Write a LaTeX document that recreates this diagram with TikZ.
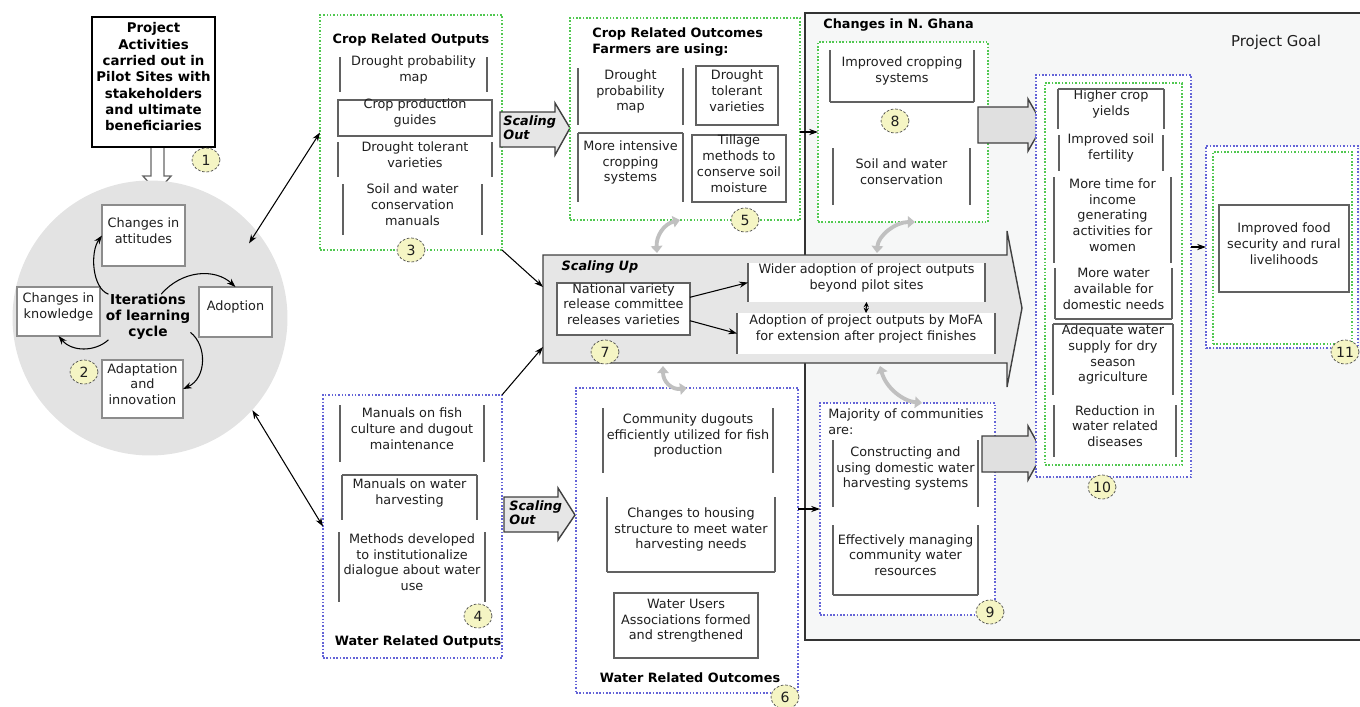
\documentclass[tikz,border=0pt]{standalone}
\usepackage{fontspec}
\setmainfont{DejaVu Sans}
\usetikzlibrary{arrows.meta,fit,calc,shapes.geometric}
\definecolor{numfill}{RGB}{245,245,196}
\definecolor{dotgreen}{RGB}{80,200,80}
\definecolor{dotblue}{RGB}{100,100,215}
\definecolor{panelfill}{RGB}{246,247,247}
\definecolor{circfill}{RGB}{227,227,227}
\definecolor{arrfill}{RGB}{230,230,230}
\definecolor{bigfill}{RGB}{224,224,224}
\definecolor{curvegray}{RGB}{192,192,192}
\begin{document}
\begin{tikzpicture}[x=0.02cm, y=-0.02cm,
  every node/.style={font=\fontsize{7.3}{9}\selectfont, text=black!88},
  boxline/.style={draw=black!62, line width=0.8pt},
  txt/.style={inner sep=0pt, outer sep=0pt, align=center, fill=white},
  lside/.style={append after command={(\tikzlastnode.north west) edge[boxline] (\tikzlastnode.south west)}},
  rside/.style={append after command={(\tikzlastnode.north east) edge[boxline] (\tikzlastnode.south east)}},
  tside/.style={append after command={(\tikzlastnode.north west) edge[boxline] (\tikzlastnode.north east)}},
  bside/.style={append after command={(\tikzlastnode.south west) edge[boxline] (\tikzlastnode.south east)}},
  sides/.style={txt, lside, rside},
  nobot/.style={txt, lside, rside, tside},
  notop/.style={txt, lside, rside, bside},
  fullbox/.style={txt, boxline},
  actbox/.style={txt, draw=black, line width=1.1pt, font=\fontsize{7.6}{9.3}\selectfont\bfseries, text=black},
  ttl/.style={inner sep=0pt, align=center, font=\fontsize{7.3}{9}\selectfont\bfseries, text=black},
  scl/.style={inner sep=0pt, align=left, font=\fontsize{7.3}{8.2}\selectfont\bfseries\itshape, text=black},
  greenbox/.style={draw=dotgreen, densely dotted, line width=0.9pt, fill=white, inner sep=0pt, outer sep=0pt},
  bluebox/.style={draw=dotblue, densely dotted, line width=0.9pt, fill=white, inner sep=0pt, outer sep=0pt},
  numc/.style={ellipse, draw=black!70, dash pattern=on 1.5pt off 1pt, fill=numfill, minimum width=0.56cm, minimum height=0.48cm, inner sep=0pt, font=\fontsize{8}{9}\selectfont},
  paneledge/.style={draw=black!80, line width=1pt},
  blockarr/.style={fill=arrfill, draw=black!75, line width=0.8pt, line join=miter},
  bigarr/.style={fill=bigfill, draw=black!75, line width=0.8pt, line join=miter},
  hollowarr/.style={fill=white, draw=black!60, line width=0.8pt, line join=miter},
  thinarr/.style={-{Stealth[length=5pt,width=3.5pt]}, line width=0.6pt, draw=black},
  dblarr/.style={{Stealth[length=5pt,width=3.5pt]}-{Stealth[length=5pt,width=3.5pt]}, line width=0.6pt, draw=black},
  grayarr/.style={{Triangle[length=4pt,width=6.5pt]}-{Triangle[length=4pt,width=6.5pt]}, line width=2.2pt, draw=curvegray}]
\def\num{node [numc] }
\def\ttl{node [ttl] }
\useasboundingbox (0,0) rectangle (1360,707);

\fill[panelfill] (805,13) rectangle (1360,640);
\draw[paneledge] (1360,13) -- (805,13) -- (805,640) -- (1360,640);
\draw (823,25) node [ttl, anchor=west] (ghana) {Changes in N. Ghana};
\draw (1276,42) node [font=\fontsize{8.5}{10}\selectfont] (goalttl) {Project Goal};

\node [actbox, fit={(92,17) (215,147)}] (act) {Project\\Activities\\carried out in\\Pilot Sites with\\stakeholders\\and ultimate\\beneficiaries};
\draw (206,160) \num (n1) {1};
\draw[hollowarr] (151,148) -- (151,176) -- (143,176) -- (157,192) -- (171,176) -- (164,176) -- (164,148);

\node [circle, fill=circfill, minimum size=5.5cm, inner sep=0pt] (cyc) at (150,318) {};
\node [fullbox, draw=black!45, fit={(102,205) (185,266)}] (att) {Changes in\\attitudes};
\node [fullbox, draw=black!45, fit={(17,287) (100,336)}] (know) {Changes in\\knowledge};
\node [fullbox, draw=black!45, fit={(199,287) (272,337)}] (adop) {Adoption};
\node [fullbox, draw=black!45, fit={(102,360) (183,418)}] (adap) {Adaptation\\and\\innovation};
\draw (148,317) node [ttl, font=\fontsize{7.8}{9}\selectfont\bfseries] (lrn) {Iterations\\of learning\\cycle};
\draw (84,372) \num (n2) {2};
\draw[thinarr] (lrn.150) .. controls (92,288) and (90,252) .. (att.west);
\draw[thinarr] (lrn.60) .. controls (182,270) and (215,268) .. (adop.north);
\draw[thinarr] (lrn.-20) .. controls (207,345) and (207,378) .. (adap.east);
\draw[thinarr] (lrn.-150) .. controls (95,352) and (72,352) .. (know.south);

\node [greenbox, fit={(320,15) (502,250)}] (out3) {};
\draw (411,40) \ttl (t3) {Crop Related Outputs};
\node [sides, fit={(340,57) (487,92)}] (c3a) {Drought probability\\map};
\node [fullbox, fit={(338,100) (492,136)}] (c3b) {Crop production\\guides};
\node [sides, fit={(338,142) (492,177)}] (c3c) {Drought tolerant\\varieties};
\node [sides, fit={(343,184) (482,235)}] (c3d) {Soil and water\\conservation\\manuals};
\draw (411,250) \num (n3) {3};

\node [bluebox, fit={(323,395) (502,658)}] (out4) {};
\node [sides, fit={(340,405) (484,462)}] (c4a) {Manuals on fish\\culture and dugout\\maintenance};
\node [nobot, fit={(342,475) (477,520)}] (c4b) {Manuals on water\\harvesting};
\node [sides, fit={(339,532) (485,602)}] (c4c) {Methods developed\\to institutionalize\\dialogue about water\\use};
\draw (478,616) \num (n4) {4};
\draw (418,642) \ttl (t4) {Water Related Outputs};

\draw[dblarr] ($(cyc)!0.9!(cyc.37)$) -- (out3.west);
\draw[dblarr] (cyc.-42) -- (out4.west);

\draw[blockarr] (500,112) -- (555,112) -- (555,103) -- (570,128) -- (555,155) -- (555,147) -- (500,147) -- cycle;
\draw (503,128) node [scl, anchor=west] (so1) {Scaling\\Out};
\draw[blockarr] (504,497) -- (558,497) -- (558,488) -- (575,515) -- (558,540) -- (558,532) -- (504,532) -- cycle;
\draw (509,513) node [scl, anchor=west] (so2) {Scaling\\Out};

\node [greenbox, fit={(570,18) (800,220)}] (out5) {};
\draw (592,42) node [ttl, anchor=west, align=left] (t5) {Crop Related Outcomes\\Farmers are using:};
\node [sides, fit={(578,68) (683,125)}] (c5a) {Drought\\probability\\map};
\node [fullbox, fit={(696,66) (778,125)}] (c5b) {Drought\\tolerant\\varieties};
\node [nobot, fit={(578,133) (683,202)}] (c5c) {More intensive\\cropping\\systems};
\node [fullbox, fit={(692,135) (786,202)}] (c5d) {Tillage\\methods to\\conserve soil\\moisture};
\draw (745,220) \num (n5) {5};

\node [bluebox, fit={(576,388) (798,693)}] (wout6) {};
\node [sides, fit={(603,408) (773,473)}] (c6a) {Community dugouts\\efficiently utilized for fish\\production};
\node [notop, fit={(607,497) (775,572)}] (c6b) {Changes to housing\\structure to meet water\\harvesting needs};
\node [fullbox, fit={(614,593) (758,658)}] (c6c) {Water Users\\Associations formed\\and strengthened};
\draw (690,678) \ttl (t6) {Water Related Outcomes};
\draw (785,697) \num (n6) {6};

\node [greenbox, fit={(818,42) (988,222)}] (gh8) {};
\node [notop, fit={(830,50) (974,102)}] (c8a) {Improved cropping\\systems};
\draw (895,121) \num (n8) {8};
\node [sides, fit={(833,148) (970,205)}] (c8b) {Soil and water\\conservation};

\node [bluebox, fit={(820,403) (995,615)}] (comm9) {};
\draw (828,422) node [anchor=west, align=left, inner sep=0pt] (t9) {Majority of communities\\are:};
\node [sides, fit={(833,440) (978,507)}] (c9a) {Constructing and\\using domestic water\\harvesting systems};
\node [notop, fit={(833,525) (978,595)}] (c9b) {Effectively managing\\community water\\resources};
\draw (990,612) \num (n9) {9};

\draw[bigarr] (978,107) -- (1028,107) -- (1028,99) -- (1043,125) -- (1028,151) -- (1028,143) -- (978,143) -- cycle;
\draw[bigarr] (982,436) -- (1028,436) -- (1028,426) -- (1043,453) -- (1028,480) -- (1028,472) -- (982,472) -- cycle;

\draw[blockarr] (543,255) -- (1007,255) -- (1007,231) -- (1022,308) -- (1007,387) -- (1007,363) -- (543,363) -- cycle;
\coordinate (upw1) at (543,287);
\coordinate (upw2) at (543,347);
\coordinate (upn1) at (657,253);
\coordinate (upn2) at (877,253);
\coordinate (ups1) at (663,366);
\coordinate (ups2) at (880,366);
\draw (600,267) node [scl] (sup) {Scaling Up};
\node [fullbox, fit={(557,283) (690,335)}] (natl) {National variety\\release committee\\releases varieties};
\draw (605,352) \num (n7) {7};
\node [sides, fit={(748,263) (985,302)}] (wider) {Wider adoption of project outputs\\beyond pilot sites};
\node [sides, fit={(737,313) (995,354)}] (mofa) {Adoption of project outputs by MoFA\\for extension after project finishes};
\draw[thinarr] (natl.10) -- (wider.west);
\draw[thinarr] (natl.-10) -- (mofa.west);
\draw[{Stealth[length=3pt,width=3pt]}-{Stealth[length=3pt,width=3pt]}, line width=0.6pt] (wider.south) -- (mofa.north);

\draw[thinarr] (out3.south east) -- (upw1);
\draw[thinarr] (out4.north east) -- (upw2);
\draw[thinarr] (out5.east |- gh8.west) -- (gh8.west);
\draw[thinarr] (wout6.east |- comm9.west) -- (comm9.west);

\draw[grayarr] ($(out5.south west)+(110,0)$) .. controls (664,224) and (656,236) .. (upn1);
\draw[grayarr] ($(gh8.south west)+(97,0)$) .. controls (895,222) and (878,236) .. (upn2);
\draw[grayarr] (ups1) .. controls (663,382) and (672,390) .. ($(wout6.north west)+(111,0)$);
\draw[grayarr] (ups2) .. controls (886,388) and (903,401) .. ($(comm9.north west)+(102,0)$);

\node [bluebox, fit={(1036,75) (1191,477)}] (o10) {};
\node [greenbox, fit={(1045,83) (1182,465)}] (o10g) {};
\node [nobot, fit={(1058,89) (1164,129)}] (c10a) {Higher crop\\yields};
\node [sides, fit={(1059,135) (1163,171)}] (c10b) {Improved soil\\fertility};
\node [sides, fit={(1054,177) (1171,263)}] (c10c) {More time for\\income\\generating\\activities for\\women};
\node [notop, fit={(1055,268) (1172,319)}] (c10d) {More water\\available for\\domestic needs};
\node [nobot, fit={(1053,324) (1173,395)}] (c10e) {Adequate water\\supply for dry\\season\\agriculture};
\node [sides, fit={(1054,405) (1176,457)}] (c10f) {Reduction in\\water related\\diseases};
\draw (1102,487) \num (n10) {10};

\node [bluebox, fit={(1206,146) (1358,348)}] (goal11) {};
\node [greenbox, fit={(1213,152) (1352,344)}] (goal11g) {};
\node [fullbox, fit={(1219,205) (1349,292)}] (c11) {Improved food\\security and rural\\livelihoods};
\draw (1345,352) \num (n11) {11};
\draw[thinarr] (o10.east |- goal11.west) -- (goal11.west);
\end{tikzpicture}
\end{document}
